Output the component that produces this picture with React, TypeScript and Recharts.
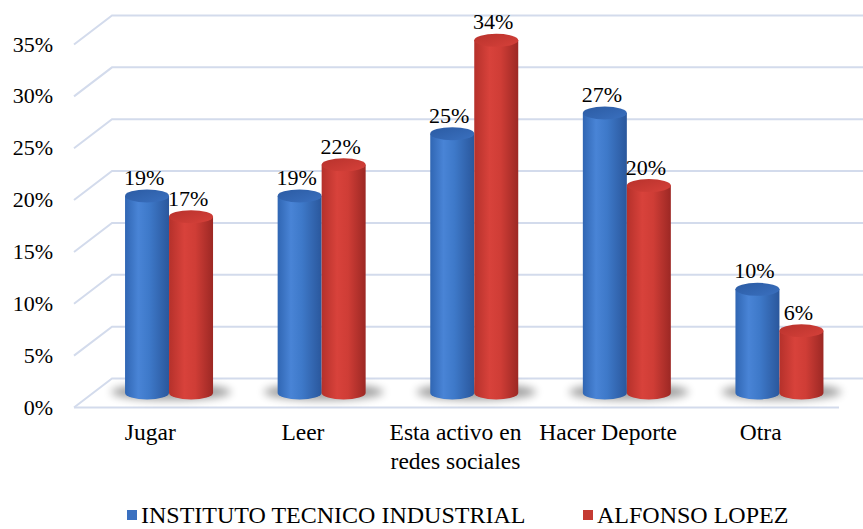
import React from "react";
import {
  BarChart,
  Bar,
  XAxis,
  YAxis,
  CartesianGrid,
  LabelList,
  Legend,
} from "recharts";

const categories = [
  "Jugar",
  "Leer",
  "Esta activo en redes sociales",
  "Hacer Deporte",
  "Otra",
];
const institutoValues = [19, 19, 25, 27, 10];
const alfonsoValues = [17, 22, 34, 20, 6];
const yTicks = [0, 5, 10, 15, 20, 25, 30, 35];
const seriesNames = ["INSTITUTO TECNICO INDUSTRIAL", "ALFONSO LOPEZ"];

const data = categories.map((name, i) => ({
  name,
  instituto: institutoValues[i],
  alfonso: alfonsoValues[i],
}));

const W = 863;
const H = 529;
const TOP = 30;
const LEGEND_H = 66;
const XAXIS_H = 70;
const PLOT_BOTTOM = H - LEGEND_H - XAXIS_H;
const DEPTH_X = 19;
const DEPTH_Y = 14.5;
const FONT = "Liberation Serif, Times New Roman, serif";
const GRID = "#d3dbec";

function GridLine(props: any) {
  const { x1, x2, y1 } = props;
  const y = y1;
  const isFloor = Math.abs(y - PLOT_BOTTOM) < 1;
  return (
    <g key={props.key ?? `g-${y}`}>
      <polyline
        points={`${x1 - DEPTH_X},${y + DEPTH_Y} ${x1 + DEPTH_X},${y - DEPTH_Y} ${W},${y - DEPTH_Y}`}
        fill="none"
        stroke={GRID}
        strokeWidth={2}
      />
      {isFloor && (
        <line
          x1={x1 - DEPTH_X}
          y1={y + DEPTH_Y}
          x2={x2 - 17}
          y2={y + DEPTH_Y}
          stroke={GRID}
          strokeWidth={2}
        />
      )}
    </g>
  );
}

function YTick({ y, payload }: any) {
  return (
    <text
      x={53}
      y={y + DEPTH_Y + 7}
      textAnchor="end"
      fontFamily={FONT}
      fontSize={22}
      fill="#000"
    >
      {payload.value}%
    </text>
  );
}

function wrap(label: string, max: number) {
  const words = label.split(" ");
  const lines: string[] = [];
  let cur = "";
  words.forEach((w) => {
    const next = cur ? cur + " " + w : w;
    if (next.length > max && cur) {
      lines.push(cur);
      cur = w;
    } else cur = next;
  });
  if (cur) lines.push(cur);
  return lines;
}

function XTick({ x, payload }: any) {
  const lines = wrap(payload.value, 15);
  return (
    <text
      x={x - DEPTH_X}
      y={PLOT_BOTTOM + 47}
      textAnchor="middle"
      fontFamily={FONT}
      fontSize={23.5}
      fill="#000"
    >
      {lines.map((l, i) => (
        <tspan key={i} x={x - DEPTH_X} dy={i === 0 ? 0 : 29}>
          {l}
        </tspan>
      ))}
    </text>
  );
}

function Cylinder(props: any, kind: "blue" | "red") {
  const { x, y, width, height } = props;
  if (height == null || width == null) return <g />;
  const rx = width / 2;
  const ry = 6.5;
  const cx = x + rx;
  const top = y;
  const bottom = y + height;
  return (
    <g>
      {kind === "blue" && (
        <ellipse
          cx={x + width + 2}
          cy={bottom - 1}
          rx={width + 16}
          ry={8}
          fill="#000"
          opacity={0.38}
          filter="url(#shadowBlur)"
        />
      )}
      <path
        d={`M${x},${top} L${x},${bottom} A${rx},${ry} 0 0 0 ${x + width},${bottom} L${x + width},${top} Z`}
        fill={`url(#${kind}Body)`}
      />
      <ellipse cx={cx} cy={top} rx={rx} ry={ry} fill={`url(#${kind}Cap)`} />
    </g>
  );
}

function ValueLabel(props: any) {
  const { x, y, width, value } = props;
  return (
    <text
      x={x + width / 2 - 3}
      y={y - 11}
      textAnchor="middle"
      fontFamily={FONT}
      fontSize={22}
      fill="#000"
    >
      {value}%
    </text>
  );
}

function LegendContent() {
  const item = (color: string, text: string, left: number) => (
    <div
      style={{
        position: "absolute",
        left,
        top: 39,
        display: "flex",
        alignItems: "center",
        whiteSpace: "nowrap",
      }}
    >
      <span
        style={{
          display: "inline-block",
          width: 10,
          height: 10,
          background: color,
          marginRight: 4,
        }}
      />
      <span style={{ fontFamily: FONT, fontSize: 24, color: "#000", lineHeight: "26px" }}>
        {text}
      </span>
    </div>
  );
  return (
    <div style={{ position: "relative", width: W, height: LEGEND_H }}>
      {item("#3a70c0", seriesNames[0], 127)}
      {item("#c43a32", seriesNames[1], 583)}
    </div>
  );
}

export default function App() {
  return (
    <div style={{ position: "absolute", left: 0, top: 0, background: "#fff" }}>
      <BarChart
        width={W}
        height={H}
        data={data}
        margin={{ top: TOP, right: 7, left: 0, bottom: 0 }}
        barCategoryGap="21%"
        barGap={0}
      >
        <defs>
          <linearGradient id="blueBody" x1="0" y1="0" x2="1" y2="0">
            <stop offset="0%" stopColor="#3066b3" />
            <stop offset="30%" stopColor="#4984d6" />
            <stop offset="55%" stopColor="#3e79c9" />
            <stop offset="100%" stopColor="#2a579c" />
          </linearGradient>
          <linearGradient id="blueCap" x1="0" y1="0" x2="1" y2="1">
            <stop offset="0%" stopColor="#2b5ba3" />
            <stop offset="100%" stopColor="#3a70bf" />
          </linearGradient>
          <linearGradient id="redBody" x1="0" y1="0" x2="1" y2="0">
            <stop offset="0%" stopColor="#b5312b" />
            <stop offset="35%" stopColor="#d8423b" />
            <stop offset="60%" stopColor="#cf3d36" />
            <stop offset="100%" stopColor="#9c2824" />
          </linearGradient>
          <linearGradient id="redCap" x1="0" y1="0" x2="1" y2="1">
            <stop offset="0%" stopColor="#b8322c" />
            <stop offset="100%" stopColor="#d6413a" />
          </linearGradient>
          <filter id="shadowBlur" x="-50%" y="-200%" width="200%" height="500%">
            <feGaussianBlur stdDeviation="4" />
          </filter>
        </defs>
        <CartesianGrid horizontal={GridLine} vertical={false} />
        <XAxis
          dataKey="name"
          height={XAXIS_H}
          axisLine={false}
          tickLine={false}
          interval={0}
          tick={XTick}
        />
        <YAxis
          width={93}
          domain={[0, 35]}
          ticks={yTicks}
          axisLine={false}
          tickLine={false}
          tick={YTick}
        />
        <Legend
          verticalAlign="bottom"
          height={LEGEND_H}
          wrapperStyle={{ left: 0, bottom: 0, width: W, height: LEGEND_H }}
          content={<LegendContent />}
        />
        <Bar
          dataKey="instituto"
          name={seriesNames[0]}
          isAnimationActive={false}
          shape={(p: any) => Cylinder(p, "blue")}
        >
          <LabelList dataKey="instituto" content={ValueLabel} />
        </Bar>
        <Bar
          dataKey="alfonso"
          name={seriesNames[1]}
          isAnimationActive={false}
          shape={(p: any) => Cylinder(p, "red")}
        >
          <LabelList dataKey="alfonso" content={ValueLabel} />
        </Bar>
      </BarChart>
    </div>
  );
}
